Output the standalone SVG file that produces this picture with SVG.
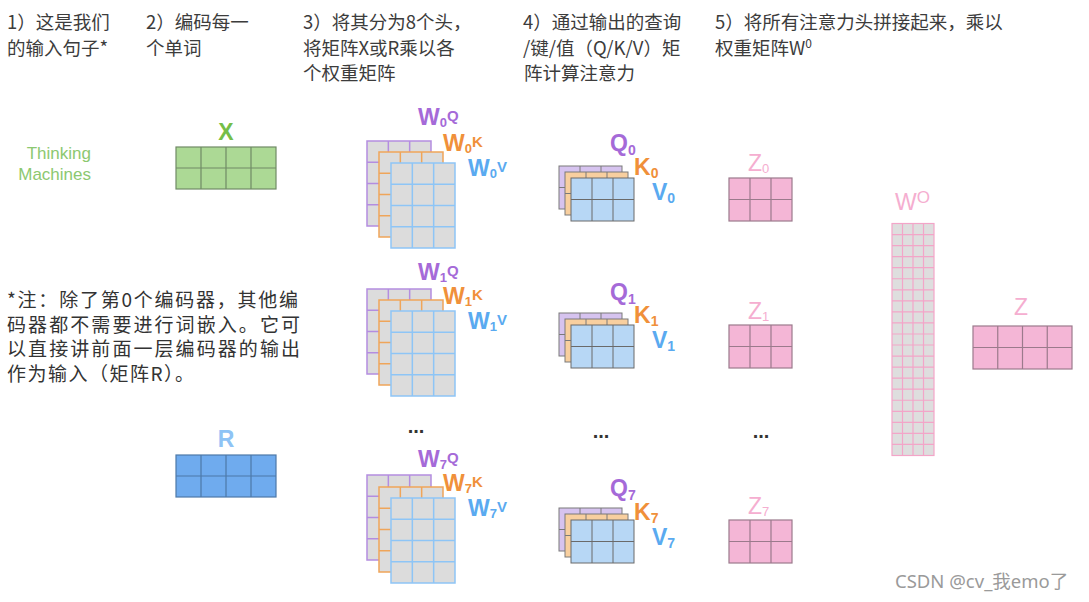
<svg xmlns="http://www.w3.org/2000/svg" width="1089" height="602" viewBox="0 0 1089 602">
<style>
.hd{font-family:"Noto Sans CJK SC","Noto Sans",sans-serif;font-size:18.5px;fill:#3c3c3c}
.nt{font-family:"Noto Sans CJK SC","Noto Sans",sans-serif;font-size:19px;fill:#333}
.b{font-family:"Liberation Sans",Arial,sans-serif;font-weight:bold;font-size:23px}
.r{font-family:"Liberation Sans",Arial,sans-serif;font-size:23px}
.sub{font-size:13px}
.sub2{font-size:14px}
.sup{font-size:15px}
.pu{fill:#a56ad8}.or{fill:#f0903a}.bl{fill:#5aaaf0}.pk{fill:#f5aed0}.gr{fill:#75be48}.lb{fill:#8ec3f5}
.dots{font-family:"Liberation Sans",Arial,sans-serif;font-weight:bold;font-size:20px;fill:#333;text-anchor:middle}
.tm{font-family:"Liberation Sans",Arial,sans-serif;font-size:17px;fill:#8cc870;text-anchor:end}
.wm{font-family:"Noto Sans","Noto Sans CJK SC",sans-serif;font-size:18.5px;fill:#9a9a9a}
</style>
<defs>
<g id="mWP" fill="#dcdcdc" stroke="#b48de0" stroke-width="1.5"><rect width="64" height="85"/><path fill="none" d="M21.33 0V85M42.67 0V85M0 21.25H64M0 42.5H64M0 63.75H64"/></g>
<g id="mWO" fill="#dcdcdc" stroke="#efa55a" stroke-width="1.5"><rect width="64" height="85"/><path fill="none" d="M21.33 0V85M42.67 0V85M0 21.25H64M0 42.5H64M0 63.75H64"/></g>
<g id="mWB" fill="#dcdcdc" stroke="#8ec5f6" stroke-width="1.5"><rect width="64" height="85"/><path fill="none" d="M21.33 0V85M42.67 0V85M0 21.25H64M0 42.5H64M0 63.75H64"/></g>
<g id="mQP" fill="#d6c3ef" stroke="#7a7a7a" stroke-width="1"><rect width="63" height="43"/><path fill="none" d="M21 0V43M42 0V43M0 21.5H63"/></g>
<g id="mQO" fill="#f8cf9f" stroke="#7a7a7a" stroke-width="1"><rect width="63" height="43"/><path fill="none" d="M21 0V43M42 0V43M0 21.5H63"/></g>
<g id="mQB" fill="#b7d7f5" stroke="#6a6a6a" stroke-width="1"><rect width="63" height="43"/><path fill="none" d="M21 0V43M42 0V43M0 21.5H63"/></g>
<g id="mZ" fill="#f4b6d6" stroke="#9b7a8c" stroke-width="1.2"><rect width="63" height="43"/><path fill="none" d="M21 0V43M42 0V43M0 21.5H63"/></g>
</defs>
<rect width="1089" height="602" fill="#fff"/>

<g id="header">
<text class="hd" x="7" y="29">1）这是我们</text>
<text class="hd" x="7" y="54.5">的输入句子*</text>
<text class="hd" x="146" y="29">2）编码每一</text>
<text class="hd" x="146" y="54.5">个单词</text>
<text class="hd" x="303" y="29">3）将其分为8个头，</text>
<text class="hd" x="303" y="54.5">将矩阵X或R乘以各</text>
<text class="hd" x="303" y="80">个权重矩阵</text>
<text class="hd" x="523" y="29">4）通过输出的查询</text>
<text class="hd" x="523" y="54.5">/键/值（Q/K/V）矩</text>
<text class="hd" x="524" y="80">阵计算注意力</text>
<text class="hd" x="715" y="29">5）将所有注意力头拼接起来，乘以</text>
<text class="hd" x="715" y="54.5">权重矩阵W<tspan font-size="12" dy="-7">0</tspan></text>
</g>

<g id="sentence">
<text class="tm" x="91" y="159">Thinking</text>
<text class="tm" x="91" y="180">Machines</text>
</g>

<g id="note">
<text class="nt" x="7" y="307" textLength="291">*注：除了第0个编码器，其他编</text>
<text class="nt" x="7" y="331.5" textLength="293">码器都不需要进行词嵌入。它可</text>
<text class="nt" x="7" y="356" textLength="293">以直接讲前面一层编码器的输出</text>
<text class="nt" x="7" y="380.5" letter-spacing="1.5">作为输入（矩阵R）。</text>
</g>

<g id="X">
<text class="b gr" x="226" y="140" text-anchor="middle">X</text>
<rect x="176" y="147" width="100" height="42" fill="#acd995" stroke="#708a66" stroke-width="1.2"/>
<path d="M201 147V189M226 147V189M251 147V189M176 168H276" stroke="#708a66" stroke-width="1.2" fill="none"/>
</g>

<g id="R">
<text class="b lb" x="226" y="447" text-anchor="middle">R</text>
<rect x="176" y="455" width="100" height="42" fill="#6fabee" stroke="#4d79a8" stroke-width="1.2"/>
<path d="M201 455V497M226 455V497M251 455V497M176 476H276" stroke="#4d79a8" stroke-width="1.2" fill="none"/>
</g>

<g id="W0">
<use href="#mWP" x="367" y="141"/>
<use href="#mWO" x="379" y="152"/>
<use href="#mWB" x="391" y="163"/>
<text class="b pu" x="418" y="125">W<tspan class="sub" dy="2">0</tspan><tspan class="sup" dy="-6">Q</tspan></text>
<text class="b or" x="443" y="151">W<tspan class="sub" dy="2">0</tspan><tspan class="sup" dy="-6">K</tspan></text>
<text class="b bl" x="468" y="176">W<tspan class="sub" dy="2">0</tspan><tspan class="sup" dy="-6">V</tspan></text>
</g>

<g id="W1">
<use href="#mWP" x="367" y="289"/>
<use href="#mWO" x="379" y="300"/>
<use href="#mWB" x="391" y="311"/>
<text class="b pu" x="418" y="280">W<tspan class="sub" dy="2">1</tspan><tspan class="sup" dy="-6">Q</tspan></text>
<text class="b or" x="443" y="304">W<tspan class="sub" dy="2">1</tspan><tspan class="sup" dy="-6">K</tspan></text>
<text class="b bl" x="468" y="329">W<tspan class="sub" dy="2">1</tspan><tspan class="sup" dy="-6">V</tspan></text>
</g>

<g id="W7">
<use href="#mWP" x="367" y="475"/>
<use href="#mWO" x="379" y="487"/>
<use href="#mWB" x="391" y="498"/>
<text class="b pu" x="418" y="467">W<tspan class="sub" dy="2">7</tspan><tspan class="sup" dy="-6">Q</tspan></text>
<text class="b or" x="443" y="491">W<tspan class="sub" dy="2">7</tspan><tspan class="sup" dy="-6">K</tspan></text>
<text class="b bl" x="468" y="516">W<tspan class="sub" dy="2">7</tspan><tspan class="sup" dy="-6">V</tspan></text>
</g>

<g id="QKV0">
<use href="#mQP" x="559" y="166"/>
<use href="#mQO" x="565" y="172"/>
<use href="#mQB" x="571" y="178"/>
<text class="b pu" x="610" y="151">Q<tspan class="sub2" dy="4">0</tspan></text>
<text class="b or" x="634" y="175">K<tspan class="sub2" dy="3">0</tspan></text>
<text class="b bl" x="652" y="200">V<tspan class="sub2" dy="3">0</tspan></text>
</g>

<g id="QKV1">
<use href="#mQP" x="559" y="313"/>
<use href="#mQO" x="565" y="319"/>
<use href="#mQB" x="571" y="325"/>
<text class="b pu" x="610" y="300">Q<tspan class="sub2" dy="4">1</tspan></text>
<text class="b or" x="634" y="323">K<tspan class="sub2" dy="3">1</tspan></text>
<text class="b bl" x="652" y="348">V<tspan class="sub2" dy="3">1</tspan></text>
</g>

<g id="QKV7">
<use href="#mQP" x="559" y="508"/>
<use href="#mQO" x="565" y="514"/>
<use href="#mQB" x="571" y="520"/>
<text class="b pu" x="610" y="496">Q<tspan class="sub2" dy="4">7</tspan></text>
<text class="b or" x="634" y="520">K<tspan class="sub2" dy="3">7</tspan></text>
<text class="b bl" x="652" y="545">V<tspan class="sub2" dy="3">7</tspan></text>
</g>

<g id="Z0">
<text class="r pk" x="748" y="171">Z<tspan class="sub" dy="2">0</tspan></text>
<use href="#mZ" x="729" y="178"/>
</g>
<g id="Z1">
<text class="r pk" x="748" y="319">Z<tspan class="sub" dy="2">1</tspan></text>
<use href="#mZ" x="729" y="325"/>
</g>
<g id="Z7">
<text class="r pk" x="748" y="514">Z<tspan class="sub" dy="2">7</tspan></text>
<use href="#mZ" x="729" y="520"/>
</g>

<g id="ellipses">
<text class="dots" x="416" y="433">...</text>
<text class="dots" x="601" y="438">...</text>
<text class="dots" x="761" y="438">...</text>
</g>

<g id="WO">
<text class="r pk" x="895" y="210">W<tspan font-size="17" dy="-7">O</tspan></text>
<rect x="892" y="223.5" width="42" height="232" fill="#dedede" stroke="#f3a5c8" stroke-width="1.2"/>
<path transform="translate(892 223.5)" fill="none" stroke="#f3a5c8" stroke-width="1.2" d="M10.5 0V232M21 0V232M31.5 0V232M0 11.05H42M0 22.1H42M0 33.14H42M0 44.19H42M0 55.24H42M0 66.29H42M0 77.33H42M0 88.38H42M0 99.43H42M0 110.48H42M0 121.52H42M0 132.57H42M0 143.62H42M0 154.67H42M0 165.71H42M0 176.76H42M0 187.81H42M0 198.86H42M0 209.9H42M0 220.95H42"/>
</g>

<g id="Z">
<text class="r pk" x="1021" y="315" text-anchor="middle">Z</text>
<rect x="973" y="326" width="99" height="43" fill="#f4b6d6" stroke="#9b7a8c" stroke-width="1.2"/>
<path d="M997.75 326V369M1022.5 326V369M1047.25 326V369M973 347.5H1072" stroke="#9b7a8c" stroke-width="1.2" fill="none"/>
</g>

<g id="watermark">
<text class="wm" x="895" y="588">CSDN @cv_我emo了</text>
</g>
</svg>
